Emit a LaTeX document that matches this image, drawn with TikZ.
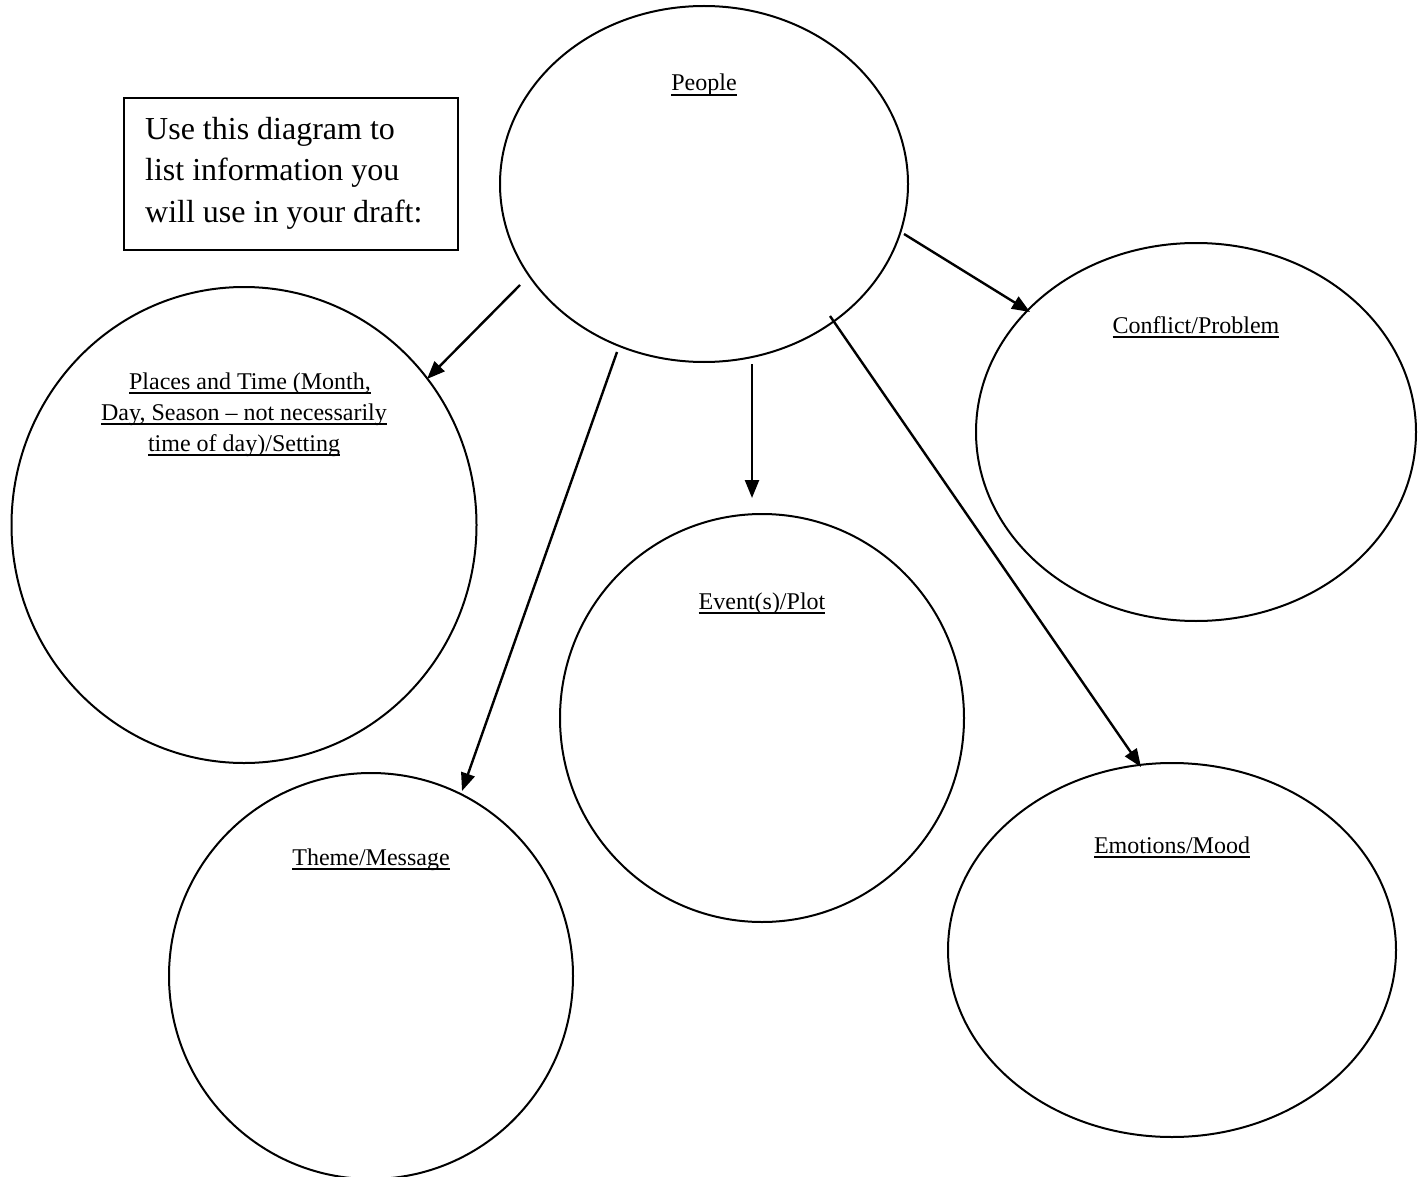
\documentclass[tikz,border=0pt]{standalone}
\usepackage{fontspec}
\setmainfont{Liberation Serif}
\newcommand{\myul}[1]{\leavevmode\setbox0=\hbox{#1}\copy0\kern-\wd0\vrule width\wd0 height -3pt depth 5.2pt\relax}
\usetikzlibrary{shapes.geometric,arrows.meta}
\begin{document}
\begin{tikzpicture}[x=1pt,y=-1pt,
  bubble/.style={draw, ellipse, line width=2pt, inner sep=0pt},
  lbl/.style={font=\fontsize{24}{31}\selectfont, anchor=base, inner sep=0pt, align=center},
  conn/.style={line width=2.4pt, -{Triangle[length=18pt,width=14pt]}}]
\useasboundingbox (0,0) rectangle (1424,1177);
\clip (0,0) rectangle (1424,1177);
% ellipses
\node[bubble, minimum width=408pt, minimum height=356pt] (people) at (704,184) {};
\node[bubble, minimum width=465pt, minimum height=476pt] (places) at (244,525) {};
\node[bubble, minimum width=440pt, minimum height=378pt] (conflict) at (1196,432) {};
\node[bubble, minimum width=404pt, minimum height=408pt] (event) at (762,718) {};
\node[bubble, minimum width=404pt, minimum height=406pt] (theme) at (371,976) {};
\node[bubble, minimum width=448pt, minimum height=374pt] (emotions) at (1172,950) {};
% labels
\node[lbl] (tpeople) at (704,91) {\myul{People}};
\node[lbl] (tplaces1) at (250,389) {\myul{Places and Time (Month,}};
\node[lbl] (tplaces2) at (244,420) {\myul{Day, Season -- not necessarily}};
\node[lbl] (tplaces3) at (244,451) {\myul{time of day)/Setting}};
\node[lbl] (tconflict) at (1196,333) {\myul{Conflict/Problem}};
\node[lbl] (tevent) at (762,609) {\myul{Event(s)/Plot}};
\node[lbl] (ttheme) at (371,865) {\myul{Theme/Message}};
\node[lbl] (temotions) at (1172,853) {\myul{Emotions/Mood}};
% box
\node[draw, line width=1.6pt, anchor=north west, minimum width=334pt, minimum height=152pt, inner sep=0pt] (box) at (123,97) {};
\node[anchor=north west, align=left, inner sep=0pt, font=\fontsize{32}{41.5}\selectfont] (boxtext) at (145,117) {Use this diagram to\\list information you\\will use in your draft:};
% connectors
\coordinate (s1) at (520,285); \coordinate (e1) at (427,379);
\coordinate (s2) at (617,352); \coordinate (e2) at (462,791);
\coordinate (s3) at (752,364); \coordinate (e3) at (752,498);
\coordinate (s4) at (830,316); \coordinate (e4) at (1141,767);
\coordinate (s5) at (904,234); \coordinate (e5) at (1030,312);
\draw[conn] (s1) -- (e1);
\draw[conn] (s2) -- (e2);
\draw[conn] (s3) -- (e3);
\draw[conn] (s4) -- (e4);
\draw[conn] (s5) -- (e5);
\end{tikzpicture}
\end{document}
